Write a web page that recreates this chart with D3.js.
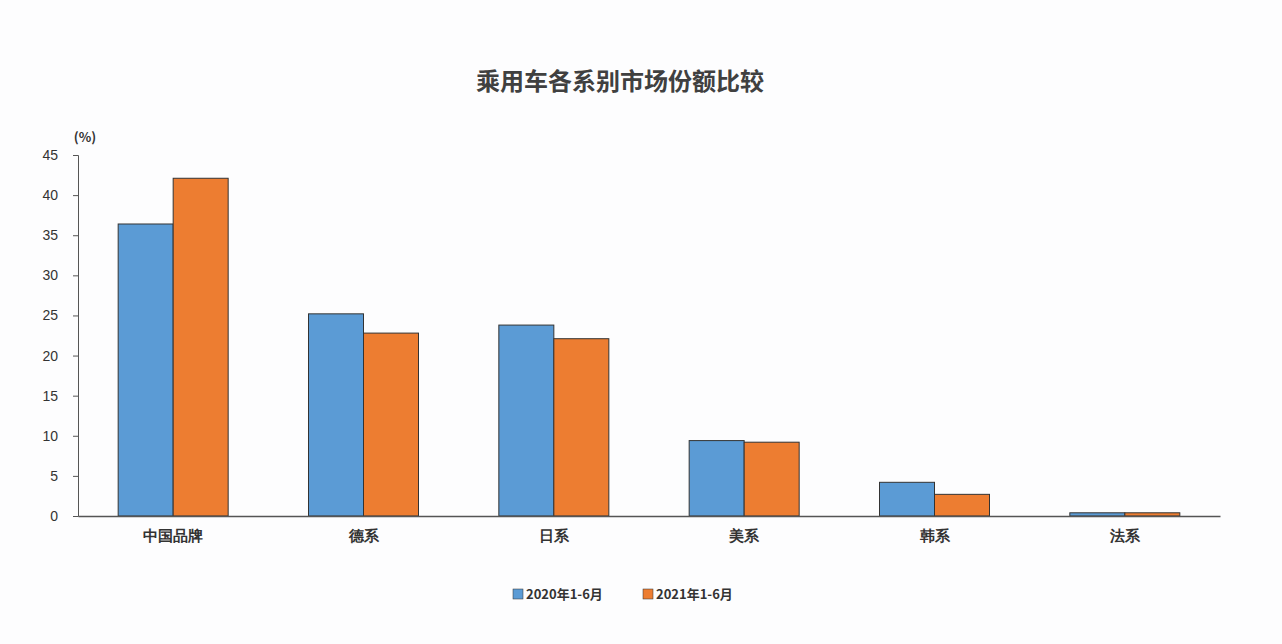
<!DOCTYPE html>
<html>
<head>
<meta charset="utf-8">
<style>
* { margin: 0; padding: 0; }
body { background: #fdfdfe; font-family: "Noto Sans CJK SC", "Noto Sans", sans-serif; }
</style>
<script src="https://cdn.jsdelivr.net/npm/d3@7/dist/d3.min.js"></script>
</head>
<body>
<div id="root"></div>
<script>
var categories = ["中国品牌", "德系", "日系", "美系", "韩系", "法系"];
var seriesNames = ["2020年1-6月", "2021年1-6月"];
var values2020 = [36.4, 25.2, 23.8, 9.4, 4.2, 0.4];
var values2021 = [42.1, 22.8, 22.1, 9.2, 2.7, 0.4];
var yTicks = [0, 5, 10, 15, 20, 25, 30, 35, 40, 45];
var colors = ["#5b9bd5", "#ed7d31"];

var width = 1282, height = 644;
var margin = { left: 78, right: 62, top: 155, bottom: 128 };
var svg = d3.select("#root").append("svg").attr("width", width).attr("height", height);

var x = d3.scaleBand().domain(categories).range([margin.left, width - margin.right]);
var xs = d3.scaleBand().domain([0, 1]).range([0, 110]);
var y = d3.scaleLinear().domain([0, 45]).range([height - margin.bottom, margin.top]);

svg.append("text").attr("x", 620).attr("y", 90).attr("text-anchor", "middle")
    .attr("font-size", 24).attr("font-weight", "bold").attr("fill", "#404040")
    .text("乘用车各系别市场份额比较");

svg.append("text").attr("x", 85).attr("y", 142).attr("text-anchor", "middle")
    .attr("font-size", 13).attr("font-weight", "bold").attr("fill", "#333").text("(%)");

var yAxis = svg.append("g").attr("transform", `translate(${margin.left},0)`)
    .call(d3.axisLeft(y).tickValues(yTicks).tickSize(5));
yAxis.selectAll("text").attr("font-size", 14).attr("fill", "#333").attr("dx", -12);
yAxis.selectAll("line,path").attr("stroke", "#555");

var data = [values2020, values2021];
data.forEach(function (vals, s) {
    svg.append("g").selectAll("rect").data(vals).enter().append("rect")
        .attr("x", function (d, i) { return x(categories[i]) + (x.bandwidth() - 110) / 2 + xs(s); })
        .attr("y", function (d) { return y(d); })
        .attr("width", xs.bandwidth())
        .attr("height", function (d) { return y(0) - y(d); })
        .attr("fill", colors[s]).attr("stroke", "#333").attr("stroke-width", 1);
});

var xAxis = svg.append("g").attr("transform", `translate(0,${y(0)})`)
    .call(d3.axisBottom(x).tickSize(0).tickPadding(14));
xAxis.selectAll("text").attr("font-size", 15).attr("font-weight", "bold").attr("fill", "#333");
xAxis.select("path").attr("stroke", "#555").attr("stroke-width", 1.5);

var legend = svg.append("g").attr("transform", "translate(513,589)");
seriesNames.forEach(function (n, i) {
    var g = legend.append("g").attr("transform", `translate(${i * 130},0)`);
    g.append("rect").attr("x", 0).attr("y", 0).attr("width", 10).attr("height", 10)
        .attr("fill", colors[i]).attr("stroke", "#333").attr("stroke-width", 0.5);
    g.append("text").attr("x", 13).attr("y", 10).attr("font-size", 13)
        .attr("font-weight", "bold").attr("fill", "#333").text(n);
});
</script>
</body>
</html>
